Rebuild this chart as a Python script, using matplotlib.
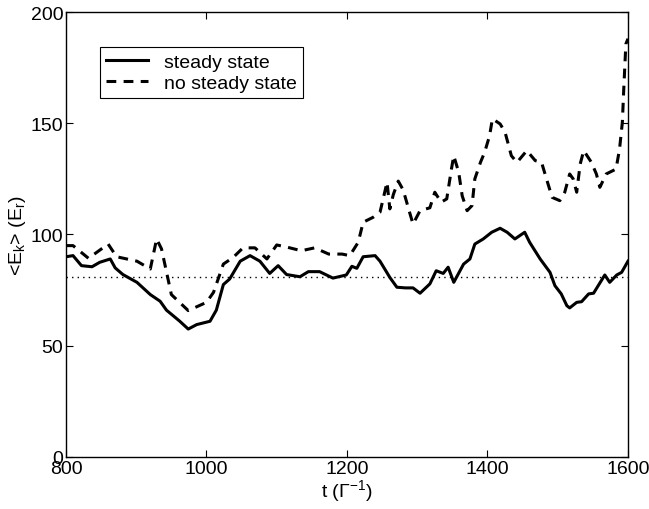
#!/usr/bin/env python3
import matplotlib

matplotlib.use("Agg")
import matplotlib.pyplot as plt

# time axis (units of 1/Gamma) and mean kinetic energy (units of E_r)
t_steady = [
    800, 810, 822, 837, 848, 863, 870, 881, 901, 920, 934, 943, 962, 974, 986,
    1005, 1014, 1024, 1033, 1048, 1062, 1076, 1090, 1102, 1114, 1133, 1145, 1161,
    1180, 1199, 1207, 1214, 1223, 1240, 1247, 1261, 1271, 1283, 1294, 1304, 1318,
    1327, 1337, 1344, 1352, 1366, 1375, 1382, 1394, 1406, 1418, 1428, 1439, 1453,
    1460, 1475, 1489, 1496, 1505, 1513, 1517, 1527, 1534, 1544, 1551, 1567, 1574,
    1584, 1591, 1600,
]
ek_steady = [
    90, 90.5, 86, 85.5, 87.5, 89, 85, 82, 78.5, 73, 70, 66, 61, 57.5, 59.5,
    61, 66, 77.5, 80, 88, 90.5, 88, 82.5, 86, 82, 81, 83.3, 83.3,
    80.4, 81.8, 85.7, 84.8, 90, 90.5, 88, 80.7, 76.3, 76, 76, 73.6, 77.8,
    83.7, 82.5, 85.3, 78.5, 86.7, 89, 95.7, 98, 101, 102.8, 101, 98, 101,
    96.5, 89, 83, 77, 73.3, 68, 67, 69.5, 69.8, 73.3, 73.6, 81.8, 78.5,
    81.8, 83, 88,
]

t_nosteady = [
    800, 810, 832, 860, 872, 901, 920, 929, 936, 950, 974, 1000, 1010, 1024,
    1038, 1052, 1069, 1086, 1100, 1116, 1135, 1154, 1174, 1193, 1204, 1216, 1223,
    1237, 1247, 1252, 1257, 1261, 1266, 1273, 1280, 1290, 1294, 1304, 1318, 1325,
    1334, 1342, 1349, 1352, 1359, 1364, 1371, 1378, 1382, 1390, 1396, 1403, 1407,
    1418, 1425, 1434, 1442, 1456, 1468, 1477, 1484, 1492, 1503, 1510, 1517, 1522,
    1527, 1532, 1537, 1548, 1555, 1560, 1569, 1583, 1588, 1592, 1594, 1597, 1600,
]
ek_nosteady = [
    95, 95, 89.3, 95.7, 90, 88, 84.5, 98, 93.5, 73, 65.8, 69.5, 74, 86.7,
    89.7, 94, 94, 89, 95.3, 94.2, 92.7, 94, 91.2, 91.2, 90.5, 96.5, 105.5,
    107.7, 110, 116.7, 123.5, 111.5, 118, 124, 120, 109, 104.7, 110.7, 112, 119,
    114.5, 116, 130, 135.4, 128, 117.4, 110.7, 113, 125, 132.4, 137, 144.4, 152,
    149.7, 146, 135.4, 132.4, 137.7, 133.2, 132.4, 125, 116.7, 115.2, 119, 127.2, 125,
    119, 131.7, 137.7, 132.4, 127.2, 121.2, 127.2, 129.4, 138.4, 150.4, 165.4, 185.6, 188,
]

mean_level = 81
x_ticks = [800, 1000, 1200, 1400, 1600]
y_ticks = [0, 50, 100, 150, 200]

plt.rcParams["font.family"] = ["Liberation Sans", "DejaVu Sans"]
plt.rcParams["font.size"] = 14

fig = plt.figure(figsize=(6.49, 5.10), dpi=100)
ax = fig.add_axes([0.1017, 0.102, 0.8659, 0.8725])

ax.plot(t_steady, ek_steady, color="black", lw=2.2, label="steady state")
ax.plot(t_nosteady, ek_nosteady, color="black", lw=2.2,
        linestyle=(0, (3.2, 2.4)), label="no steady state")
ax.axhline(mean_level, color="black", lw=1.0, linestyle=(0, (1, 3)))

ax.set_xlim(800, 1600)
ax.set_ylim(0, 200)
ax.set_xticks(x_ticks)
ax.set_yticks(y_ticks)
ax.tick_params(direction="in", top=True, right=True, length=5, width=0.8,
               labelsize=14, pad=2)
for spine in ax.spines.values():
    spine.set_linewidth(1.0)

ax.set_xlabel(r"t ($\mathregular{\Gamma^{-1}}$)", fontsize=14, labelpad=0)
ax.set_ylabel(r"<E$\mathregular{_k}$> (E$\mathregular{_r}$)", fontsize=14, labelpad=2)

leg = ax.legend(loc="upper left", bbox_to_anchor=(0.06, 0.921), borderaxespad=0,
                fancybox=False, edgecolor="black", framealpha=1, fontsize=14,
                handlelength=2.2, handletextpad=0.8, borderpad=0.3, labelspacing=0.2)
leg.get_frame().set_linewidth(0.8)

fig.savefig("out.png", dpi=100)
